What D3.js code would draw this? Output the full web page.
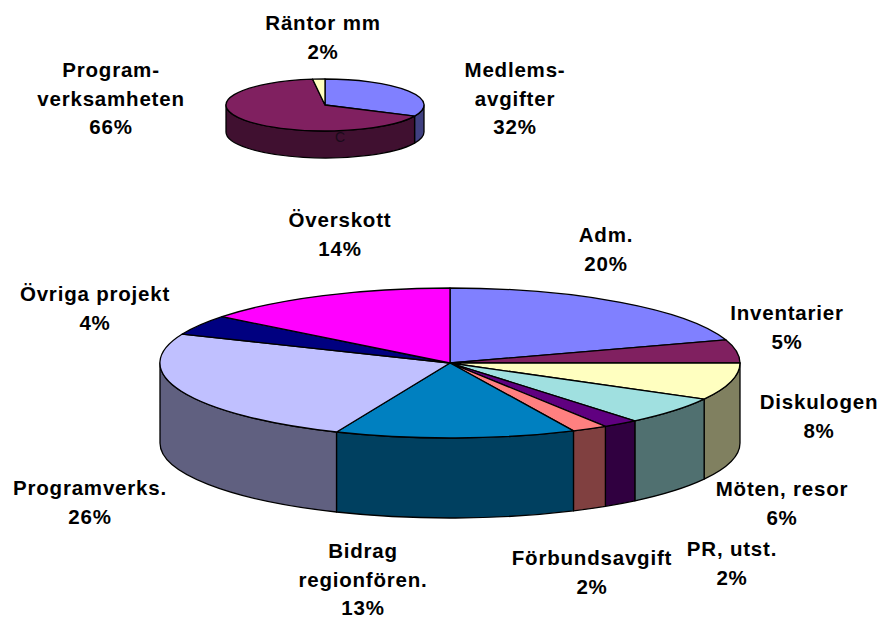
<!DOCTYPE html>
<html>
<head>
<meta charset="utf-8">
<script src="https://cdnjs.cloudflare.com/ajax/libs/d3/7.8.5/d3.min.js"></script>
<style>
body { margin: 0; background: #fff; }
text { font-family: "Liberation Sans", Arial, sans-serif; font-weight: bold; font-size: 20.5px; letter-spacing: 0.8px; fill: #000; text-anchor: middle; }
</style>
</head>
<body>
<script>
// income pie (top)
var incomeNames = [["Medlems-", "avgifter"], ["Program-", "verksamheten"], ["Räntor mm"]];
var incomeValues = [32, 66, 2];
var incomePercents = ["32%", "66%", "2%"];
var incomeColors = ["#8080ff", "#802060", "#ffffc0"];

// expenses pie (bottom)
// slice sizes, printed labels are kept separately
var costNames = [["Adm."], ["Inventarier"], ["Diskulogen"], ["Möten, resor"], ["PR, utst."], ["Förbundsavgift"],
    ["Bidrag", "regionfören."], ["Programverks."], ["Övriga projekt"], ["Överskott"]];
var costValues = [20, 5, 8, 6, 2, 2, 13.4, 24.9, 4.3, 14.4];
var costPercents = ["20%", "5%", "8%", "6%", "2%", "2%", "13%", "26%", "4%", "14%"];
var costColors = ["#8080ff", "#802060", "#ffffc0", "#a0e0e0", "#600080", "#ff8080", "#0080c0", "#c0c0ff", "#000080", "#ff00ff"];

// label anchors, first line baseline
var incomeLabelPos = [[515, 77], [111, 77], [323, 30]];
var costLabelPos = [[606, 242], [787, 320], [819, 409], [782, 496], [732, 556], [592, 565], [363, 558], [90, 495], [95, 301], [340, 227]];

var width = 879;
var height = 620;
var lineHeight = 28.5;

var svg = d3.select("body").append("svg")
    .attr("width", width)
    .attr("height", height)
    .style("display", "block");

svg.append("rect")
    .attr("width", width)
    .attr("height", height)
    .attr("fill", "#fff");

var pie = d3.pie().sort(null);

function drawPie(cfg) {
    var slices = pie(cfg.values);
    var sx = d3.scaleLinear().domain([-1, 1]).range([cfg.cx - cfg.rx, cfg.cx + cfg.rx]);
    var sy = d3.scaleLinear().domain([-1, 1]).range([cfg.cy - cfg.ry, cfg.cy + cfg.ry]);
    var g = svg.append("g");

    function rimPath(a0, a1) {
        var x0 = sx(Math.sin(a0)), y0 = sy(-Math.cos(a0));
        var x1 = sx(Math.sin(a1)), y1 = sy(-Math.cos(a1));
        return "M" + x0 + "," + y0 +
            "A" + cfg.rx + "," + cfg.ry + " 0 0 1 " + x1 + "," + y1 +
            "L" + x1 + "," + (y1 + cfg.depth) +
            "A" + cfg.rx + "," + cfg.ry + " 0 0 0 " + x0 + "," + (y0 + cfg.depth) + "Z";
    }

    // only the front half of the rim shows
    slices.forEach(function (d, i) {
        var a0 = Math.max(d.startAngle, Math.PI / 2);
        var a1 = Math.min(d.endAngle, Math.PI * 3 / 2);
        if (a1 <= a0) return;
        var c = d3.rgb(cfg.colors[i]);
        g.append("path")
            .attr("d", rimPath(a0, a1))
            .attr("fill", d3.rgb(c.r / 2, c.g / 2, c.b / 2))
            .attr("stroke", "#000")
            .attr("stroke-width", 1.3)
            .attr("stroke-linejoin", "round");
    });

    var arc = d3.arc().innerRadius(0).outerRadius(1);
    g.append("g")
        .attr("transform", "translate(" + cfg.cx + "," + cfg.cy + ") scale(" + cfg.rx + "," + cfg.ry + ")")
        .selectAll("path")
        .data(slices)
        .enter().append("path")
        .attr("d", arc)
        .attr("fill", function (d, i) { return cfg.colors[i]; })
        .attr("stroke", "#000")
        .attr("stroke-width", 1.3)
        .attr("stroke-linejoin", "round")
        .attr("vector-effect", "non-scaling-stroke");

    // labels
    cfg.names.forEach(function (lines, i) {
        var t = svg.append("text")
            .attr("x", cfg.labels[i][0])
            .attr("y", cfg.labels[i][1]);
        lines.concat([cfg.percents[i]]).forEach(function (s, k) {
            t.append("tspan")
                .attr("x", cfg.labels[i][0])
                .attr("dy", k == 0 ? 0 : lineHeight)
                .text(s);
        });
    });
}

drawPie({
    names: incomeNames, values: incomeValues, percents: incomePercents, colors: incomeColors, labels: incomeLabelPos,
    cx: 325, cy: 105, rx: 99, ry: 26, depth: 27
});

drawPie({
    names: costNames, values: costValues, percents: costPercents, colors: costColors, labels: costLabelPos,
    cx: 450, cy: 363, rx: 290, ry: 75, depth: 80
});

// stray glyph on the small pie's rim
svg.append("text")
    .attr("x", 340)
    .attr("y", 142)
    .style("font-size", "14px")
    .style("font-weight", "normal")
    .style("letter-spacing", "0")
    .style("fill", "#1a0a1a")
    .text("C");
</script>
</body>
</html>
